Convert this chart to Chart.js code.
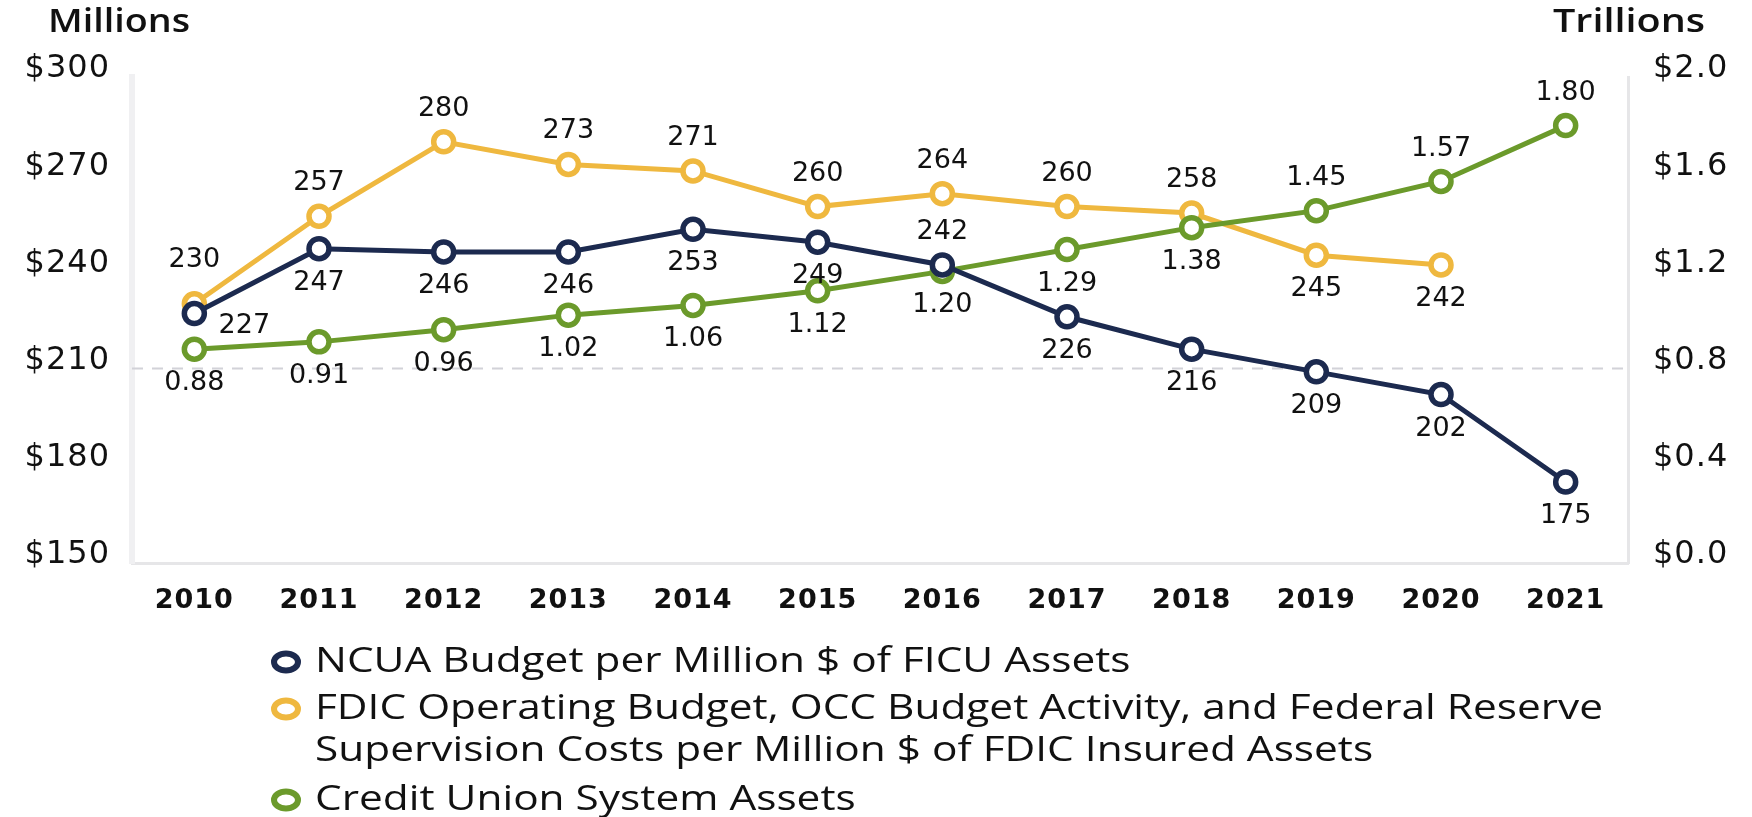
<!DOCTYPE html>
<html>
<head>
<meta charset="utf-8">
<title>NCUA vs bank regulator budgets</title>
<script src="https://cdn.jsdelivr.net/npm/chart.js@4.4.1/dist/chart.umd.min.js"></script>
<style>
  html, body { margin: 0; padding: 0; background: #fff; }
  #wrap { width: 1752px; height: 817px; }
</style>
</head>
<body>
<div id="wrap"><canvas id="chart" width="1752" height="817"></canvas></div>
<script>
const years = ["2010", "2011", "2012", "2013", "2014", "2015", "2016", "2017", "2018", "2019", "2020", "2021"];
const ncuaBudget = [227, 247, 246, 246, 253, 249, 242, 226, 216, 209, 202, 175];
const bankBudget = [230, 257, 280, 273, 271, 260, 264, 260, 258, 245, 242, null];
const cuAssets = [0.88, 0.91, 0.96, 1.02, 1.06, 1.12, 1.20, 1.29, 1.38, 1.45, 1.57, 1.80];

// where each value label sits: a = above, b = below, A = high above, r = right
const ncuaLabelPos = ["r", "b", "b", "b", "b", "b", "a", "b", "b", "b", "b", "b"];
const bankLabelPos = ["A", "a", "a", "a", "a", "a", "a", "a", "a", "b", "b", "b"];
const assetLabelPos = ["b", "b", "b", "b", "b", "b", "b", "b", "b", "a", "a", "a"];

const leftAxisTitle = "Millions";
const rightAxisTitle = "Trillions";
const refLineValue = 210;

const legendItems = [
  ["NCUA Budget per Million $ of FICU Assets"],
  ["FDIC Operating Budget, OCC Budget Activity, and Federal Reserve",
   "Supervision Costs per Million $ of FDIC Insured Assets"],
  ["Credit Union System Assets"],
];

const NAVY = "#1c2a4f";
const GOLD = "#efb83f";
const GREEN = "#6b9a2b";
const legendColors = [NAVY, GOLD, GREEN];

// draw text squeezed/stretched to a given width
function wideText(ctx, text, x, y, width, align) {
  const w = ctx.measureText(text).width;
  const sx = width ? width / w : 1;
  ctx.save();
  ctx.translate(align === "right" ? x - w * sx : x, y);
  ctx.scale(sx, 1);
  ctx.textAlign = "left";
  ctx.fillText(text, 0, 0);
  ctx.restore();
}

const extras = {
  id: "extras",
  beforeDraw(chart) {
    chart.ctx.letterSpacing = "1px";
  },
  beforeDatasetsDraw(chart) {
    const { ctx, chartArea } = chart;
    const y = chart.scales.y.getPixelForValue(refLineValue);
    ctx.save();
    ctx.strokeStyle = "#d2d2d8";
    ctx.lineWidth = 2;
    ctx.setLineDash([11, 9]);
    ctx.beginPath();
    ctx.moveTo(chartArea.left, y);
    ctx.lineTo(chartArea.right, y);
    ctx.stroke();
    ctx.restore();
  },
  afterDatasetsDraw(chart) {
    const ctx = chart.ctx;
    ctx.save();
    ctx.letterSpacing = "0px";
    ctx.font = "27px 'DejaVu Sans'";
    ctx.fillStyle = "#111";
    ctx.textAlign = "center";
    ctx.textBaseline = "middle";
    chart.data.datasets.forEach((ds, di) => {
      const meta = chart.getDatasetMeta(di);
      meta.data.forEach((pt, i) => {
        const v = ds.data[i];
        if (v == null) return;
        const pos = ds.labelPos[i];
        let dx = 0, dy = 34;
        if (pos === "a") dy = -33;
        if (pos === "A") dy = -44;
        if (pos === "r") { dx = 50; dy = 12; }
        ctx.fillText(ds.fmt(v), pt.x + dx, pt.y + dy);
      });
    });
    ctx.restore();
  },
  afterDraw(chart) {
    const ctx = chart.ctx;
    ctx.save();
    ctx.letterSpacing = "0px";
    ctx.fillStyle = "#111";
    ctx.textBaseline = "middle";

    // axis unit titles
    ctx.font = "600 33px 'Open Sans'";
    wideText(ctx, leftAxisTitle, 48, 23, 142, "left");
    wideText(ctx, rightAxisTitle, 1705, 23, 152, "right");

    // legend
    ctx.font = "34px 'Open Sans'";
    const sx = 1288 / ctx.measureText(legendItems[1][0]).width;
    const rows = [[662], [709, 751], [800]];
    legendItems.forEach((lines, k) => {
      ctx.save();
      ctx.strokeStyle = legendColors[k];
      ctx.fillStyle = "#fff";
      ctx.lineWidth = 6;
      ctx.beginPath();
      ctx.ellipse(286, rows[k][0], 12, 8.5, 0, 0, Math.PI * 2);
      ctx.fill();
      ctx.stroke();
      ctx.restore();
      lines.forEach((line, j) => {
        const w = ctx.measureText(line).width * sx;
        wideText(ctx, line, 315, rows[k][j], w, "left");
      });
    });
    ctx.restore();
  },
};

const lineStyle = (color) => ({
  borderColor: color,
  backgroundColor: "#fff",
  pointBackgroundColor: "#fff",
  pointBorderColor: color,
  borderWidth: 5,
  pointRadius: 10,
  pointBorderWidth: 5.5,
  pointHoverRadius: 10,
  tension: 0,
});

new Chart(document.getElementById("chart"), {
  type: "line",
  data: {
    labels: years,
    datasets: [
      {
        label: legendItems[0][0],
        data: ncuaBudget,
        yAxisID: "y",
        order: 0,
        labelPos: ncuaLabelPos,
        fmt: (v) => String(v),
        ...lineStyle(NAVY),
      },
      {
        label: legendItems[1].join(" "),
        data: bankBudget,
        yAxisID: "y",
        order: 2,
        labelPos: bankLabelPos,
        fmt: (v) => String(v),
        ...lineStyle(GOLD),
      },
      {
        label: legendItems[2][0],
        data: cuAssets,
        yAxisID: "y1",
        order: 1,
        labelPos: assetLabelPos,
        fmt: (v) => v.toFixed(2),
        ...lineStyle(GREEN),
      },
    ],
  },
  options: {
    responsive: false,
    animation: false,
    layout: { padding: { top: 77, left: 0, right: 0, bottom: 0 } },
    plugins: {
      legend: { display: false },
      tooltip: { enabled: false },
    },
    scales: {
      x: {
        offset: true,
        grid: { display: false, drawTicks: false },
        border: { color: "#e6e6e8", width: 3 },
        ticks: {
          color: "#111",
          padding: 22,
          font: { family: "DejaVu Sans", size: 27, weight: "bold" },
        },
        afterFit(scale) { scale.height = 254; },
      },
      y: {
        position: "left",
        min: 150,
        max: 300,
        grid: { display: false, drawTicks: false },
        border: { color: "#f0f0f2", width: 6 },
        ticks: {
          stepSize: 30,
          color: "#111",
          padding: 22,
          labelOffset: -8,
          font: { family: "DejaVu Sans", size: 32 },
          callback: (v) => "$" + v,
        },
        afterFit(scale) { scale.width = 132; },
      },
      y1: {
        position: "right",
        min: 0,
        max: 2,
        grid: { display: false, drawTicks: false },
        border: { color: "#e6e6e8", width: 3 },
        ticks: {
          stepSize: 0.4,
          color: "#111",
          padding: 25,
          labelOffset: -8,
          font: { family: "DejaVu Sans", size: 32 },
          callback: (v) => "$" + Number(v).toFixed(1),
        },
        afterFit(scale) { scale.width = 124; },
      },
    },
  },
  plugins: [extras],
});
</script>
</body>
</html>
